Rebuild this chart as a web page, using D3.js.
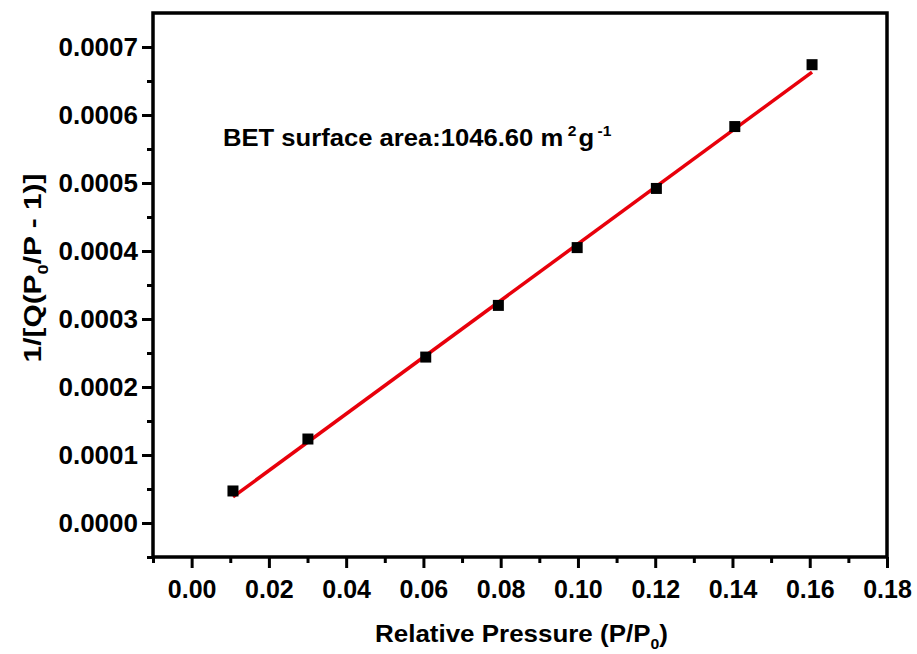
<!DOCTYPE html>
<html>
<head>
<meta charset="utf-8">
<script src="https://cdn.jsdelivr.net/npm/d3@7"></script>
<style>
  body { margin: 0; background: #fff; }
  svg text { font-family: "Liberation Sans", Arial, sans-serif; font-weight: bold; fill: #000; }
</style>
</head>
<body>
<svg id="chart" width="917" height="654"></svg>
<script>
// BET plot data
const pressure = [0.0107, 0.0301, 0.0606, 0.0794, 0.0998, 0.1203, 0.1406, 0.1606];
const betValue = [0.0000471, 0.0001235, 0.000244, 0.00032, 0.000405, 0.000492, 0.000583, 0.000674];
// linear fit end points
const fitX = [0.0107, 0.1606];
const fitY = [0.0000383, 0.000663];

const xTicks = [0, 0.02, 0.04, 0.06, 0.08, 0.10, 0.12, 0.14, 0.16, 0.18];
const xMinor = [-0.01, 0.01, 0.03, 0.05, 0.07, 0.09, 0.11, 0.13, 0.15, 0.17];
const yTicks = [0, 0.0001, 0.0002, 0.0003, 0.0004, 0.0005, 0.0006, 0.0007];
const yMinor = [-0.00005, 0.00005, 0.00015, 0.00025, 0.00035, 0.00045, 0.00055, 0.00065];

const xDomain = [-0.01, 0.18];
const yDomain = [-0.00005, 0.00075];

const margin = { left: 153, right: 30, top: 13, bottom: 97 };
const W = 917, H = 654;

const svg = d3.select('#chart');

const x = d3.scaleLinear().domain(xDomain).range([margin.left, W - margin.right]);
const y = d3.scaleLinear().domain(yDomain).range([H - margin.bottom, margin.top]);

function styleAxis(g) {
  g.select('.domain').remove();
  g.selectAll('.tick line').attr('stroke', '#000').attr('stroke-width', 3);
  g.selectAll('.tick text').style('font-size', '25px');
}

// minor ticks
svg.append('g')
  .attr('transform', `translate(0,${y.range()[0]})`)
  .call(d3.axisBottom(x).tickValues(xMinor).tickSize(6).tickFormat(''))
  .call(styleAxis);
svg.append('g')
  .attr('transform', `translate(${x.range()[0]},0)`)
  .call(d3.axisLeft(y).tickValues(yMinor).tickSize(6).tickFormat(''))
  .call(styleAxis);

// major ticks
svg.append('g')
  .attr('transform', `translate(0,${y.range()[0]})`)
  .call(d3.axisBottom(x).tickValues(xTicks).tickSize(11).tickPadding(12).tickFormat(d3.format('.2f')))
  .call(styleAxis);
const yAx = svg.append('g')
  .attr('transform', `translate(${x.range()[0]},0)`)
  .call(d3.axisLeft(y).tickValues(yTicks).tickSize(11).tickPadding(4).tickFormat(d3.format('.4f')))
  .call(styleAxis);
yAx.selectAll('.tick text').style('font-size', '26px');

// frame
svg.append('rect')
  .attr('x', x.range()[0])
  .attr('y', y.range()[1])
  .attr('width', x.range()[1] - x.range()[0])
  .attr('height', y.range()[0] - y.range()[1])
  .attr('fill', 'none')
  .attr('stroke', '#000')
  .attr('stroke-width', 3.5);

// fit line
svg.append('line')
  .attr('x1', x(fitX[0])).attr('y1', y(fitY[0]))
  .attr('x2', x(fitX[1])).attr('y2', y(fitY[1]))
  .attr('stroke', '#e8000b')
  .attr('stroke-width', 3.5);

// points
const sz = 11;
svg.append('g')
  .selectAll('rect')
  .data(pressure.map((p, i) => [p, betValue[i]]))
  .join('rect')
  .attr('x', d => x(d[0]) - sz / 2)
  .attr('y', d => y(d[1]) - sz / 2)
  .attr('width', sz)
  .attr('height', sz)
  .attr('fill', '#000');

// stretch a label horizontally so it covers the target width
function fitText(t, target) {
  const w = t.node().getBBox().width;
  return target / w;
}

// annotation
const ann = svg.append('text').style('font-size', '23px');
ann.append('tspan').text('BET surface area:1046.60 m');
ann.append('tspan').attr('dx', 4).attr('dy', -10).style('font-size', '14px').text('2');
ann.append('tspan').attr('dx', 2).attr('dy', 10).text('g');
ann.append('tspan').attr('dx', 3).attr('dy', -10).style('font-size', '14px').text('-1');
ann.attr('transform', `translate(223,146) scale(${fitText(ann, 389)},1)`);

// x title
const xt = svg.append('text').style('font-size', '23px');
xt.append('tspan').text('Relative Pressure (P/P');
xt.append('tspan').attr('dy', 7).style('font-size', '14px').text('0');
xt.append('tspan').attr('dy', -7).text(')');
xt.attr('transform', `translate(375,642) scale(${fitText(xt, 293)},1)`);

// y title
const yt = svg.append('text').style('font-size', '23px').attr('text-anchor', 'middle');
yt.append('tspan').text('1/[Q(P');
yt.append('tspan').attr('dy', 7).style('font-size', '14px').text('0');
yt.append('tspan').attr('dy', -7).text('/P - 1)]');
yt.attr('transform', `translate(41,268) rotate(-90) scale(${fitText(yt, 189)},1)`);
</script>
</body>
</html>
